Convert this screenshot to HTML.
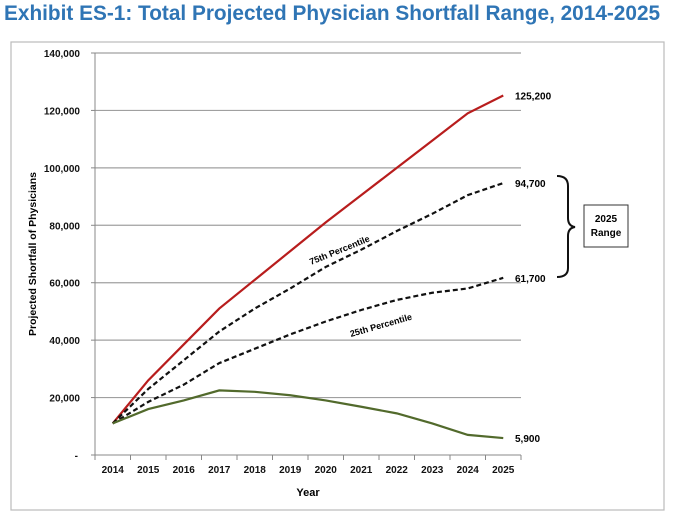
<!DOCTYPE html>
<html><head><meta charset="utf-8"><style>
body{margin:0;width:673px;height:519px;background:#fff;overflow:hidden;font-family:"Liberation Sans",sans-serif}
#title{position:absolute;left:4px;top:2px;font-size:20.8px;font-weight:bold;color:#2f75b5;white-space:nowrap;letter-spacing:0}
svg{position:absolute;left:0;top:0}
</style></head><body>
<div id="title">Exhibit ES-1: Total Projected Physician Shortfall Range, 2014-2025</div>
<svg id="chart" width="673" height="519"></svg>
<script>
const years=['2014','2015','2016','2017','2018','2019','2020','2021','2022','2023','2024','2025'];
const yTicks=[0,20000,40000,60000,80000,100000,120000,140000];
const highSeries=[11000,26000,38500,51000,61000,71000,81000,90500,100000,109500,119000,125200];
const p75Series=[11000,23000,33000,43000,51000,58000,65500,71500,78000,84000,90500,94700];
const p25Series=[11000,18500,24500,32000,37000,42000,46500,50500,54000,56500,58000,61700];
const lowSeries=[11000,16000,19000,22500,22000,20800,19000,16800,14500,11000,7000,5900];
const endLabels=['125,200','94,700','61,700','5,900'];
const NS='http://www.w3.org/2000/svg';
const svg=document.getElementById('chart');
const L=95,R=521,T=53,B=455;
const xs=i=>L+(R-L)/years.length*(i+0.5);
const ys=v=>B-(B-T)*v/140000;
function mk(tag,a,p){const e=document.createElementNS(NS,tag);for(const k in a)e.setAttribute(k,a[k]);(p||svg).appendChild(e);return e;}
const frame=mk('rect',{x:11,y:42,width:653,height:468,fill:'none',stroke:'#bbb','stroke-width':1.2});


yTicks.forEach(v=>{
  if(v>0){const g=mk('line',{x1:L,x2:R,y1:ys(v),y2:ys(v),stroke:'#a0a0a0','stroke-width':1.2});
  
  }
  const t=mk('text',{x:v?80:78,y:ys(v)+4,'text-anchor':'end','font-size':10,'font-weight':'bold',fill:'#111'});
  t.textContent=v?v.toLocaleString('en-US'):'-';
  
  
  mk('line',{x1:L-4,x2:L,y1:ys(v),y2:ys(v),stroke:'#888'});
});
mk('line',{x1:L,x2:L,y1:T,y2:B,stroke:'#888'});
mk('line',{x1:L,x2:R,y1:B,y2:B,stroke:'#888'});
years.forEach((y,i)=>{
  const x0=L+(R-L)/years.length*i;
  mk('line',{x1:x0,x2:x0,y1:B,y2:B+5,stroke:'#888'});
  const t=mk('text',{x:xs(i),y:473,'text-anchor':'middle','font-size':10,'font-weight':'bold',fill:'#111'});
  t.textContent=y;
  
  
});
mk('line',{x1:R,x2:R,y1:B,y2:B+5,stroke:'#888'});
const xt=mk('text',{x:308,y:496,'text-anchor':'middle','font-size':11,'font-weight':'bold'});xt.textContent='Year';


const yt=mk('text',{x:0,y:0,transform:'translate(36,254) rotate(-90)','text-anchor':'middle','font-size':10.5,'font-weight':'bold'});yt.textContent='Projected Shortfall of Physicians';


const series=[[highSeries,'#b81d1d',null,'series-high'],[p75Series,'#111','5,3','series-75th'],[p25Series,'#111','5,3','series-25th'],[lowSeries,'#526a2c',null,'series-low']];
series.forEach((s,k)=>{
  const d=s[0].map((v,i)=>(i?'L':'M')+xs(i)+','+ys(v)).join(' ');
  const a={d:d,fill:'none',stroke:s[1],'stroke-width':2.2};
  if(s[2])a['stroke-dasharray']=s[2];
  const p=mk('path',a);
  
  
  const last=s[0][s[0].length-1];
  const t=mk('text',{x:515,y:ys(last)+4,'font-size':10,'font-weight':'bold'});t.textContent=endLabels[k];
  
  
});
const a1=mk('text',{x:0,y:0,transform:'translate(311,265) rotate(-22)','font-size':9,'font-weight':'bold'});a1.textContent='75th Percentile';


const a2=mk('text',{x:0,y:0,transform:'translate(351,337) rotate(-16)','font-size':9,'font-weight':'bold'});a2.textContent='25th Percentile';


const br=mk('path',{d:'M557,176 Q568,176 568,186 L568,218 Q568,226 575,227 Q568,228 568,236 L568,268 Q568,277 557,277',fill:'none',stroke:'#111','stroke-width':2});


const bx=mk('rect',{x:584,y:205,width:44,height:42,fill:'#fff',stroke:'#333'});


const b1=mk('text',{x:606,y:222,'text-anchor':'middle','font-size':10,'font-weight':'bold'});b1.textContent='2025';
const b2=mk('text',{x:606,y:236,'text-anchor':'middle','font-size':10,'font-weight':'bold'});b2.textContent='Range';




</script>
</body></html>
